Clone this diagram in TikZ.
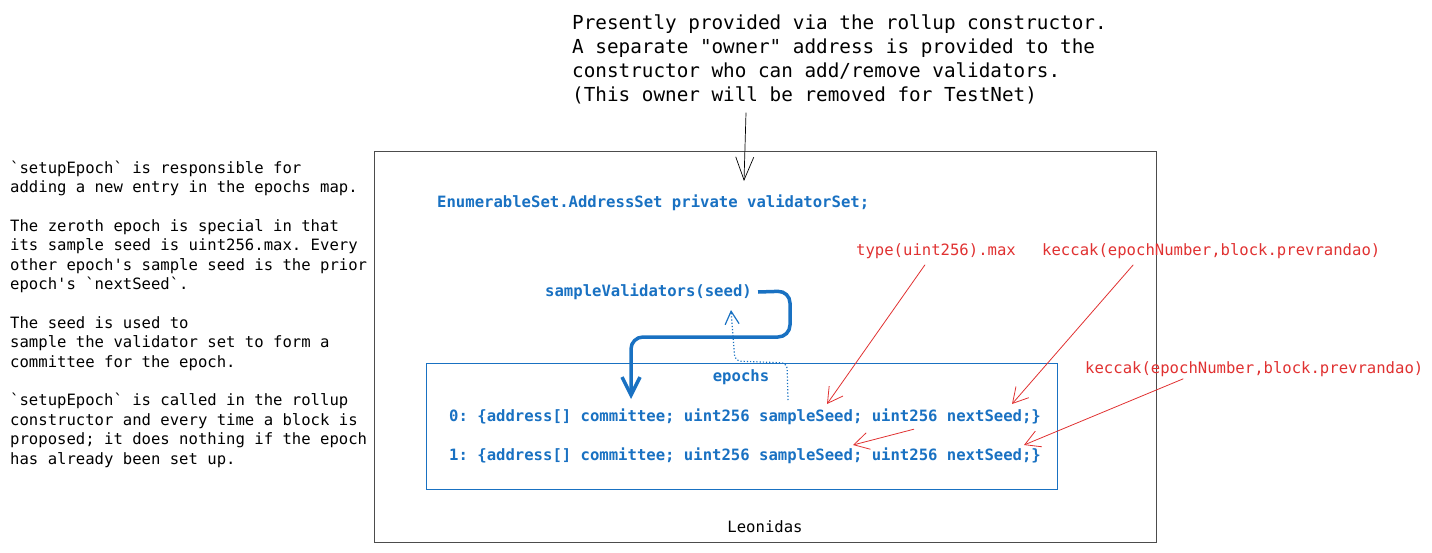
\documentclass[tikz,border=0pt]{standalone}
\usepackage{fontspec}
\setmonofont{DejaVu Sans Mono}
\usetikzlibrary{arrows.meta,positioning}
\definecolor{exblue}{HTML}{1971C2}
\definecolor{exred}{HTML}{E03131}

\begin{document}
\begin{tikzpicture}[x=1pt,y=-1pt,
		note/.style={font=\ttfamily\fontsize{15.6}{19.4}\selectfont, align=left, inner sep=0pt},
		code/.style={note, font=\ttfamily\bfseries\fontsize{15.6}{19.4}\selectfont, text=exblue},
		hint/.style={note, text=exred},
		redarrow/.style={exred, line width=0.8pt, -{Straight Barb[length=15pt,width=17pt]}}]
	\useasboundingbox (0,0) rectangle (1432,552);
	% boxes
	\node[draw=black!70, line width=1pt, minimum width=782pt, minimum height=391pt] (rollup) at (765,346.5) {};
	\node[draw=exblue, line width=1pt, minimum width=631pt, minimum height=126pt] (epochbox) at (741.5,426) {};
	\node[note, anchor=center] (leonidas) at (765,527) {Leonidas};
	% notes
	\node[note, anchor=north west, font=\ttfamily\fontsize{19.3}{24}\selectfont] (owner) at (572,15) {Presently provided via the rollup constructor.\\A separate "owner" address is provided to the\\constructor who can add/remove validators.\\(This owner will be removed for TestNet)};
	\node[note, anchor=north west] (setup) at (10,160.5) {`setupEpoch` is responsible for\\adding a new entry in the epochs map.\\[19.4pt]The zeroth epoch is special in that\\its sample seed is uint256.max. Every\\other epoch's sample seed is the prior\\epoch's `nextSeed`.\\[19.4pt]The seed is used to\\sample the validator set to form a\\committee for the epoch.\\[19.4pt]`setupEpoch` is called in the rollup\\constructor and every time a block is\\proposed; it does nothing if the epoch\\has already been set up.};
	% code
	\node[code, anchor=west] (validatorSet) at (437,203) {EnumerableSet.AddressSet private validatorSet;};
	\node[code, anchor=west] (sample) at (545,292) {sampleValidators(seed)};
	\node[code, anchor=center] (epochs) at (741,377) {epochs};
	\node[code, anchor=west] (epoch0) at (449,417) {0: \{address[] committee; uint256 sampleSeed; uint256 nextSeed;\}};
	\node[code, anchor=west] (epoch1) at (449,456) {1: \{address[] committee; uint256 sampleSeed; uint256 nextSeed;\}};
	% seeds
	\node[hint, anchor=center] (maxseed) at (936,251) {type(uint256).max};
	\node[hint, anchor=west] (keccak0) at (1042,251) {keccak(epochNumber,block.prevrandao)};
	\node[hint, anchor=west] (keccak1) at (1085,369) {keccak(epochNumber,block.prevrandao)};
	\coordinate (ownertip) at (744,181);
	\coordinate (sampleseed0) at (827,404);
	\coordinate (nextseed0) at (1012,404);
	\coordinate (sampleseed1) at (853,445);
	\coordinate (nextseed1) at (1024,445);
	% arrows
	\draw[black, line width=0.7pt, -{Straight Barb[length=23pt,width=18pt]}] (owner.south -| 746,0) ++(0,8) -- (ownertip);
	\draw[exblue, line width=3.5pt, rounded corners=12pt, -{Straight Barb[length=18pt,width=18pt]}] (sample.east) ++(6,0) -- (790,291) -- (790,337) -- (631,337) -- (631,399);
	\draw[exblue, dotted, line width=1.2pt, rounded corners=6pt, -{Straight Barb[length=13pt,width=14pt]}] (788,400) -- (787,363) -- (735,361) -- (731,310);
	\draw[redarrow] (maxseed.south) ++(-11,6) -- (sampleseed0);
	\draw[redarrow] (keccak0.south) ++(-78,6) -- (nextseed0);
	\draw[redarrow] (nextseed0 |- epoch0.south) ++(-98,4) -- (sampleseed1);
	\draw[redarrow] (keccak1.south) ++(-71,2) -- (nextseed1);
\end{tikzpicture}
\end{document}
